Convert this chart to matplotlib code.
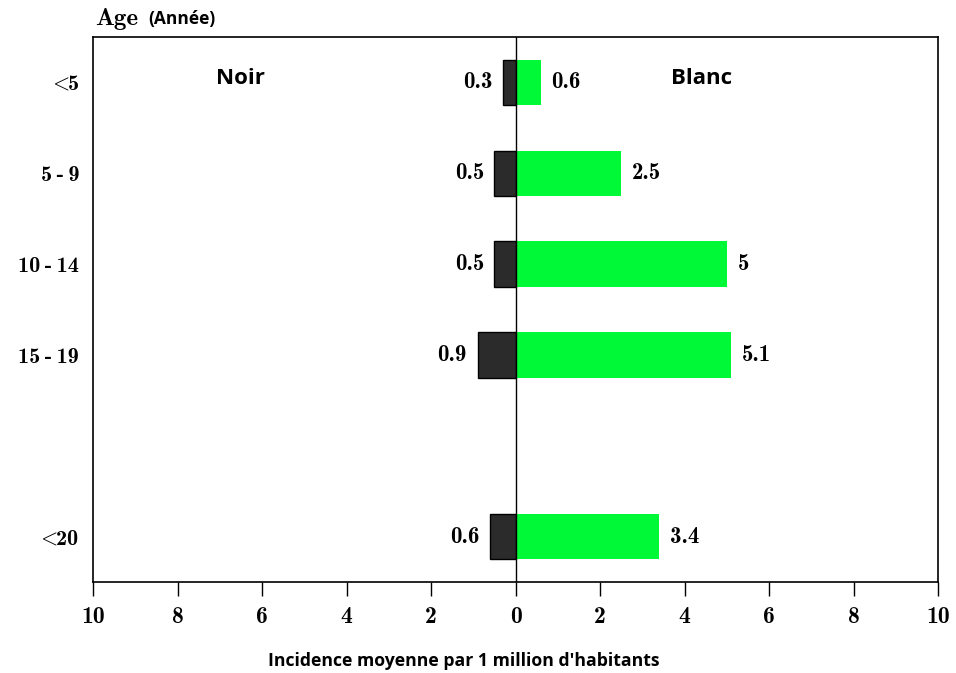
import matplotlib
matplotlib.use("Agg")
import matplotlib.pyplot as plt
import numpy as np

plt.rcParams['mathtext.fontset'] = 'cm'

# Data
age_groups = ['<5', '5 - 9', '10 - 14', '15 - 19', '<20']
positions = [0, 1, 2, 3, 5]
noir = [0.3, 0.5, 0.5, 0.9, 0.6]
blanc = [0.6, 2.5, 5.0, 5.1, 3.4]
noir_labels = ['0.3', '0.5', '0.5', '0.9', '0.6']
blanc_labels = ['0.6', '2.5', '5', '5.1', '3.4']
xticks = [-10, -8, -6, -4, -2, 0, 2, 4, 6, 8, 10]

serif = 'cmb10'
sans = 'Open Sans'

fig = plt.figure(figsize=(9.56, 6.73), dpi=100)
ax = fig.add_axes([0.0973, 0.135, 0.884, 0.810])

y = np.array(positions)
ax.barh(y, [-v for v in noir], height=0.5, color='#2b2b2b', edgecolor='black', linewidth=1)
ax.barh(y, blanc, height=0.5, color='#00f936', edgecolor='none')
ax.axvline(0, color='black', linewidth=1)

for yi, v, lab in zip(y, noir, noir_labels):
    ax.text(-v - 0.25, yi, lab, ha='right', va='center', fontsize=16.5, family=serif)
for yi, v, lab in zip(y, blanc, blanc_labels):
    ax.text(v + 0.25, yi, lab, ha='left', va='center', fontsize=16.5, family=serif)

ax.text(-6.5, -0.04, 'Noir', ha='center', va='center', fontsize=16, family=sans, fontweight='bold')
ax.text(4.4, -0.04, 'Blanc', ha='center', va='center', fontsize=16, family=sans, fontweight='bold')

ax.set_xlim(-10, 10)
ax.set_ylim(5.5, -0.5)
ax.set_xticks(xticks)
ax.set_xticklabels([str(abs(t)) for t in xticks], family=serif, fontsize=17)
ax.set_yticks(y)
ax.set_yticklabels([l.replace('<', r'$<\!\!$').replace(' - ', '\u2009-\u2009')
                    for l in age_groups], family=[serif, 'DejaVu Serif'], fontsize=16)
ax.tick_params(axis='x', direction='out', length=10, width=1, pad=7)
ax.tick_params(axis='y', length=0, pad=10)
for s in ax.spines.values():
    s.set_linewidth(1.2)

fig.text(0.099, 0.972, 'Age', ha='left', va='center', fontsize=18, family=serif)
fig.text(0.155, 0.972, '(Année)', ha='left', va='center', fontsize=12.5, family=sans, fontweight='bold')
fig.text(0.485, 0.004, "Incidence moyenne par 1 million d'habitants", ha='center', va='bottom',
         fontsize=12.7, family=sans, fontweight='bold')

fig.savefig('out.png', dpi=100)
